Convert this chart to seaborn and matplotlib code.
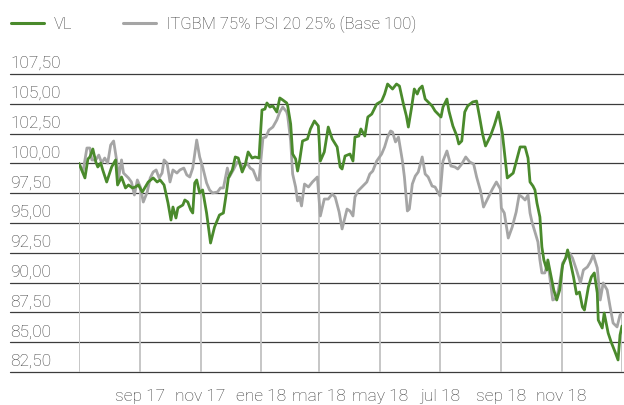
import numpy as np
import pandas as pd
import matplotlib
matplotlib.use("Agg")
import matplotlib.pyplot as plt
import matplotlib.transforms as mtransforms
from matplotlib.lines import Line2D
import seaborn as sns

# days counted from 1 jul 2017
start = pd.Timestamp("2017-07-01")

vl_days = [0, 6, 9, 11, 14, 17, 19, 22, 24, 28, 31, 33, 37, 39, 43, 47, 50, 54, 57, 60,
           64, 67, 70, 75, 79, 82, 86, 90, 93, 95, 98, 100, 105, 107, 110, 113, 115, 117, 119, 122,
           125, 129, 133, 137, 142, 146, 149, 151, 155, 158, 161, 165, 168, 171, 175, 178, 182, 185, 188, 190,
           193, 196, 200, 203, 206, 210, 211, 214, 216, 219, 221, 223, 226, 231, 234, 238, 242, 244, 248, 252,
           256, 261, 264, 266, 269, 274, 277, 279, 283, 285, 289, 292, 296, 301, 306, 309, 312, 315, 317, 321,
           324, 328, 331, 333, 336, 339, 342, 344, 347, 350, 353, 357, 360, 363, 366, 368, 372, 374, 378, 382,
           384, 387, 390, 393, 398, 402, 405, 408, 411, 416, 420, 424, 428, 433, 439, 446, 451, 454, 456, 459,
           461, 463, 466, 468, 470, 473, 474, 477, 480, 483, 486, 489, 492, 494, 497, 500, 503, 506, 509, 511,
           515, 518, 521, 524, 525, 529, 531, 535, 538, 542, 545, 547, 549]
vl_values = [100.00, 98.78, 100.37, 100.54, 101.21, 100.12, 99.70, 100.03, 99.45, 98.44, 99.19, 99.70, 100.29, 98.19, 98.86, 97.94, 98.19, 97.94, 98.02, 98.19,
             97.60, 98.02, 98.44, 98.78, 98.44, 98.61, 98.19, 96.68, 95.25, 96.34, 95.42, 96.26, 96.51, 96.93, 96.76, 96.09, 95.84, 98.36, 98.61, 97.52,
             97.77, 95.84, 93.32, 94.66, 95.67, 95.84, 97.52, 98.78, 99.45, 100.54, 100.45, 99.28, 99.87, 100.96, 100.45, 100.54, 100.45, 104.48, 104.56, 105.07,
             104.73, 104.82, 104.31, 105.49, 105.32, 105.07, 104.82, 103.31, 100.79, 100.37, 99.36, 100.20, 101.88, 102.05, 102.89, 103.56, 103.14, 100.20, 100.96, 103.05,
             102.05, 101.38, 99.70, 99.53, 100.62, 100.79, 100.20, 102.21, 102.30, 102.89, 102.30, 103.89, 104.14, 104.98, 105.23, 105.82, 106.66, 106.41, 106.24, 106.66,
             106.49, 104.98, 103.98, 103.05, 104.56, 106.24, 105.82, 106.24, 106.49, 105.40, 105.15, 104.82, 104.40, 104.14, 103.89, 104.73, 105.40, 104.40, 103.14, 102.30,
             101.63, 101.88, 104.31, 104.82, 105.15, 105.23, 103.89, 102.47, 101.46, 102.30, 103.22, 104.31, 102.55, 98.78, 99.19, 101.38, 101.38, 100.45, 98.44, 98.10,
             97.77, 96.68, 95.50, 92.99, 91.90, 91.06, 91.90, 90.64, 89.38, 88.54, 89.38, 91.48, 92.06, 92.74, 91.64, 90.47, 89.04, 89.21, 87.95, 87.70,
             89.63, 90.47, 90.81, 89.13, 86.86, 86.19, 87.45, 85.77, 85.02, 84.18, 83.51, 85.60, 86.36]

idx_days = [0, 4, 8, 11, 13, 17, 20, 23, 26, 29, 32, 35, 38, 40, 43, 45, 50, 53, 56, 59,
            62, 65, 69, 72, 75, 78, 81, 84, 86, 89, 92, 95, 99, 102, 106, 109, 112, 115, 119, 122,
            125, 129, 132, 135, 140, 143, 146, 150, 152, 156, 160, 163, 166, 170, 173, 176, 180, 182, 186, 189,
            192, 196, 200, 203, 206, 210, 211, 214, 216, 219, 221, 223, 225, 228, 232, 236, 241, 244, 248, 252,
            256, 259, 263, 266, 268, 271, 274, 277, 279, 282, 286, 291, 294, 297, 301, 306, 309, 312, 315, 317,
            320, 323, 327, 329, 332, 334, 337, 340, 343, 347, 350, 353, 357, 360, 365, 368, 372, 376, 380, 383,
            387, 391, 395, 399, 402, 406, 409, 413, 418, 422, 426, 427, 430, 434, 438, 442, 445, 448, 451, 454,
            456, 458, 461, 464, 466, 468, 471, 474, 476, 479, 483, 486, 489, 493, 496, 499, 503, 507, 510, 514,
            517, 520, 524, 527, 530, 534, 537, 540, 544, 547, 549]
idx_values = [100.00, 99.28, 101.29, 101.29, 100.29, 100.29, 100.70, 100.03, 100.45, 100.03, 101.54, 101.88, 100.29, 98.78, 100.29, 99.19, 98.78, 98.44, 97.35, 98.61,
              98.02, 96.76, 97.60, 98.78, 99.28, 99.45, 98.78, 99.19, 100.29, 100.03, 98.44, 99.45, 99.19, 99.45, 99.61, 99.03, 98.86, 99.61, 101.96, 100.54,
              99.70, 98.36, 97.77, 97.52, 97.60, 97.94, 97.94, 99.61, 98.86, 99.45, 100.12, 100.03, 99.61, 100.03, 99.61, 99.45, 98.61, 98.61, 102.13, 102.21,
              102.80, 103.05, 103.64, 104.31, 104.73, 104.31, 103.98, 101.88, 99.11, 98.02, 96.85, 97.18, 96.43, 98.27, 98.02, 98.44, 98.86, 95.59, 97.01, 97.01,
              97.43, 97.18, 95.92, 94.50, 95.17, 96.17, 96.01, 95.59, 97.18, 97.68, 98.02, 98.44, 99.11, 99.36, 100.20, 100.79, 101.38, 102.21, 102.72, 102.63,
              101.80, 102.21, 100.20, 98.86, 96.01, 96.17, 98.27, 98.94, 99.28, 100.54, 99.11, 98.86, 98.10, 98.02, 97.27, 100.20, 101.04, 99.78, 99.70, 99.53,
              99.95, 100.54, 100.12, 99.95, 98.86, 97.68, 96.34, 97.01, 97.85, 98.44, 97.85, 96.26, 95.84, 93.74, 94.66, 95.92, 97.35, 97.18, 96.93, 97.35,
              95.84, 95.08, 94.25, 93.41, 91.90, 90.81, 90.81, 91.73, 90.47, 88.54, 88.71, 89.97, 91.64, 92.15, 92.48, 92.06, 91.06, 89.97, 91.06, 91.31,
              91.73, 92.32, 91.23, 88.54, 89.97, 89.38, 87.95, 86.61, 86.28, 87.28, 87.45]

series_names = ["VL", "ITGBM 75% PSI 20 25% (Base 100)"]
grid_dates = ["2017-07-01", "2017-09-01", "2017-11-01", "2018-01-01", "2018-03-01",
              "2018-05-01", "2018-07-01", "2018-09-01", "2018-11-01", "2019-01-01"]
month_labels = ["", "sep 17", "nov 17", "ene 18", "mar 18", "may 18", "jul 18", "sep 18", "nov 18", ""]
y_ticks = [82.5, 85.0, 87.5, 90.0, 92.5, 95.0, 97.5, 100.0, 102.5, 105.0, 107.5]
y_labels = ["82,50", "85,00", "87,50", "90,00", "92,50", "95,00", "97,50", "100,00", "102,50", "105,00", "107,50"]

GREEN = "#4a8a2c"
GREY = "#a5a5a5"
TEXT = "#3a3a3a"

sns.set_style("white")
plt.rcParams["font.family"] = ["Roboto", "DejaVu Sans"]

vl = pd.DataFrame({"fecha": start + pd.to_timedelta(vl_days, unit="D"), "valor": vl_values, "serie": series_names[0]})
idx = pd.DataFrame({"fecha": start + pd.to_timedelta(idx_days, unit="D"), "valor": idx_values, "serie": series_names[1]})
df = pd.concat([idx, vl], ignore_index=True)

fig = plt.figure(figsize=(6.24, 4.05), dpi=100)
ax = fig.add_axes([79 / 624, 1 - 372 / 405, 543 / 624, 298 / 405])

sns.lineplot(data=df, x="fecha", y="valor", hue="serie", hue_order=series_names[::-1],
             palette=[GREY, GREEN], linewidth=2.0, legend=False, ax=ax, zorder=3)

ax.set_xlim(pd.Timestamp(grid_dates[0]), pd.Timestamp(grid_dates[-1]))
ax.set_ylim(82.5, 107.5)
for s in ax.spines.values():
    s.set_visible(False)

# horizontal rules run under the value labels
for v in y_ticks:
    ax.axhline(v, xmin=-0.127, xmax=1.004, color="#3c3c3c", lw=0.9, clip_on=False, zorder=1)
trans = mtransforms.blended_transform_factory(ax.transAxes, ax.transData)
for v, lbl in zip(y_ticks, y_labels):
    ax.annotate(lbl, xy=(-0.127, v), xycoords=trans, xytext=(0, 4.3), textcoords="offset points",
                ha="left", va="baseline", fontsize=12.5, color=TEXT, fontweight="light",
                annotation_clip=False)
ax.set_yticks([])

# vertical month lines drop from the top series to the axis
for d in grid_dates:
    dd = (pd.Timestamp(d) - start).days
    top = max(np.interp(dd, vl_days, vl_values), np.interp(dd, idx_days, idx_values))
    ax.vlines(pd.Timestamp(d), 82.5, top, color="#c2c2c2", lw=1.3, zorder=2)

ax.set_xticks([pd.Timestamp(d) for d in grid_dates])
ax.set_xticklabels(month_labels, fontsize=12.5, color=TEXT, fontweight="light")
ax.tick_params(length=0, pad=12)
ax.set_xlabel("")
ax.set_ylabel("")

handles = [Line2D([], [], color=GREEN, lw=2.2), Line2D([], [], color=GREY, lw=2.2)]
fig.legend(handles, series_names, loc="center left", bbox_to_anchor=(11 / 624, 1 - 24.5 / 405),
           ncol=2, frameon=False, handlelength=1.98, handletextpad=0.6, columnspacing=3.0,
           borderpad=0, borderaxespad=0, prop={"size": 12, "weight": "light"}, labelcolor=TEXT)

fig.savefig("out.png", dpi=100)
